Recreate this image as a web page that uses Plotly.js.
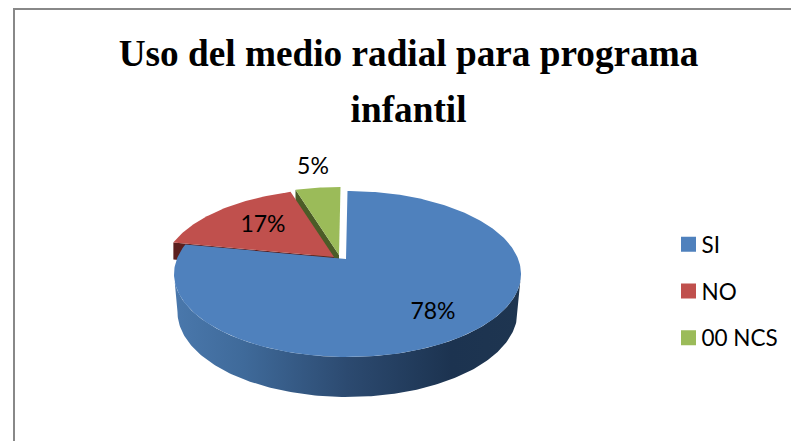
<!DOCTYPE html>
<html><head><meta charset="utf-8">
<script src="https://cdn.plot.ly/plotly-3.0.1.min.js"></script>
<style>html,body{margin:0;padding:0;background:#fff}#c{width:791px;height:441px}</style>
</head><body><div id="c"></div>
<script>
// Data
var categories = ['SI', 'NO', '00 NCS'];
var percentValues = [78, 17, 5];
var chartTitle = 'Uso del medio radial para programa<br>infantil';

// Colours
var topColors = ['#4f81bd', '#c0504d', '#9bbb59'];
var wallColors = ['#1f3650', '#5c1f1e', '#4b5c27'];

// Projection of a tilted disc
var view = {cx: 347.5, cy: 274, a: 173.5, b: 83, tilt: 15 / 83, floorA: 170, floorCy: 312, floorB: 85};
var explode = [[0, 0], [-12, -2], [-7, -4]];
var cutDepth = [40, 17, 40];
function proj(deg, s) {
  var t = deg * Math.PI / 180, u = Math.sin(t), v = Math.cos(t), d = view.tilt, w = 1 + d * v;
  return [view.cx + s[0] + view.a * u * Math.sqrt(1 - d * d) / w,
          view.cy + s[1] - view.b * (v + d) / w];
}
function apex(s) {
  return [view.cx - 1.5 + s[0], view.cy - view.b * view.tilt + s[1]];
}
function arc(a0, a1, s) {
  var pts = [], n = Math.max(2, Math.round(Math.abs(a1 - a0)));
  for (var i = 0; i <= n; i++) pts.push(proj(a0 + (a1 - a0) * i / n, s));
  return pts;
}
function xs(p) { return p.map(function (q) { return q[0]; }); }
function ys(p) { return p.map(function (q) { return q[1]; }); }
function poly(p, color, extra) {
  var tr = {x: xs(p), y: ys(p), mode: 'lines', fill: 'toself', fillcolor: color,
    line: {width: 0, color: color}, showlegend: false, hoverinfo: 'skip', type: 'scatter'};
  for (var k in extra) tr[k] = extra[k];
  return tr;
}

// Slice angles from the values
var total = percentValues.reduce(function (a, b) { return a + b; }, 0), run = 0;
var bounds = percentValues.map(function (v) {
  var b = [run / total * 360, (run + v) / total * 360]; run += v; return b;
});

var traces = [];
// cut walls behind the top faces
[2, 1].forEach(function (i) {
  var s = explode[i], ap = apex(s), tip = proj(bounds[i][0], s), dz = cutDepth[i];
  traces.push(poly([ap, tip, [tip[0], tip[1] + dz], [ap[0], ap[1] + dz]], wallColors[i]));
});
// small slices' top faces
[1, 2].forEach(function (i) {
  var s = explode[i];
  traces.push(poly([apex(s)].concat(arc(bounds[i][0], bounds[i][1], s)).concat([apex(s)]), topColors[i]));
});
// outer wall of the big slice, front half
var rim = [], floor = [];
for (var a = 180; a >= 0; a -= 1) {
  var r = a * Math.PI / 180;
  rim.push([view.cx + view.a * Math.cos(r), view.cy + view.b * Math.sin(r)]);
}
for (var a2 = 0; a2 <= 180; a2 += 1) {
  var r2 = a2 * Math.PI / 180;
  floor.push([view.cx + view.floorA * Math.cos(r2), view.floorCy + view.floorB * Math.sin(r2)]);
}
traces.push(poly(rim.concat(floor), '#2c4a70', {
  fillgradient: {type: 'horizontal', colorscale: [[0, '#4a78ac'], [0.2, '#3f6a9a'], [0.5, '#2c4a70'], [0.8, '#1c3350'], [1, '#1e3550']]}
}));
// big slice top
traces.push(poly([apex(explode[0])].concat(arc(bounds[0][0], bounds[0][1], explode[0])).concat([apex(explode[0])]), topColors[0]));

// percentage labels
var labelAt = [[433, 313], [263, 226], [313, 168]];
traces.push({type: 'scatter', mode: 'text', x: labelAt.map(function (p) { return p[0]; }), y: labelAt.map(function (p) { return p[1]; }),
  text: percentValues.map(function (v) { return v + '%'; }), textposition: 'middle center',
  textfont: {family: 'Lato, Carlito, sans-serif', size: 23, color: '#000'}, showlegend: false, hoverinfo: 'skip'});
// legend entries
categories.forEach(function (c, i) {
  traces.push({type: 'scatter', mode: 'markers', x: [null], y: [null], name: c, legendgroup: c,
    marker: {symbol: 'square', size: 15, color: topColors[i]}});
});

var layout = {
  width: 791, height: 441, margin: {l: 0, r: 0, t: 0, b: 0},
  paper_bgcolor: '#fff', plot_bgcolor: '#fff', autosize: false,
  title: {text: chartTitle, font: {family: 'Liberation Serif, serif', size: 37.25, color: '#000'},
    x: 0.5165, xanchor: 'center', y: 0.85, yanchor: 'bottom', automargin: false},
  xaxis: {range: [0, 791], visible: false, fixedrange: true},
  yaxis: {range: [441, 0], visible: false, fixedrange: true},
  legend: {x: 668.5 / 791, xanchor: 'left', y: 1 - 223 / 441, yanchor: 'top', traceorder: 'grouped',
    font: {family: 'Lato, Carlito, sans-serif', size: 22.5, color: '#000'},
    tracegroupgap: 14.5, entrywidth: 72, entrywidthmode: 'pixels',
    bgcolor: 'rgba(0,0,0,0)', itemclick: false},
  shapes: [
    {type: 'line', xref: 'paper', yref: 'paper', x0: 14 / 791, x1: 14 / 791, y0: 0, y1: 1 - 8.5 / 441, line: {color: '#888888', width: 2}, layer: 'below'},
    {type: 'line', xref: 'paper', yref: 'paper', x0: 13 / 791, x1: 1, y0: 1 - 9 / 441, y1: 1 - 9 / 441, line: {color: '#888888', width: 2}, layer: 'below'}
  ]
};
Plotly.newPlot('c', traces, layout, {displayModeBar: false, staticPlot: true}).then(function () {
  var l = document.querySelectorAll('.gtitle tspan.line');
  if (l.length > 1) l[1].setAttribute('dy', '1.49em');
  var b = document.querySelector('.gtitle');
  if (b) b.style.fontWeight = 'bold';
  document.querySelectorAll('.legendtext').forEach(function (t) {
    t.setAttribute('x', '33');
    t.querySelectorAll('tspan').forEach(function (s) { s.setAttribute('x', '33'); });
  });
});
</script></body></html>
